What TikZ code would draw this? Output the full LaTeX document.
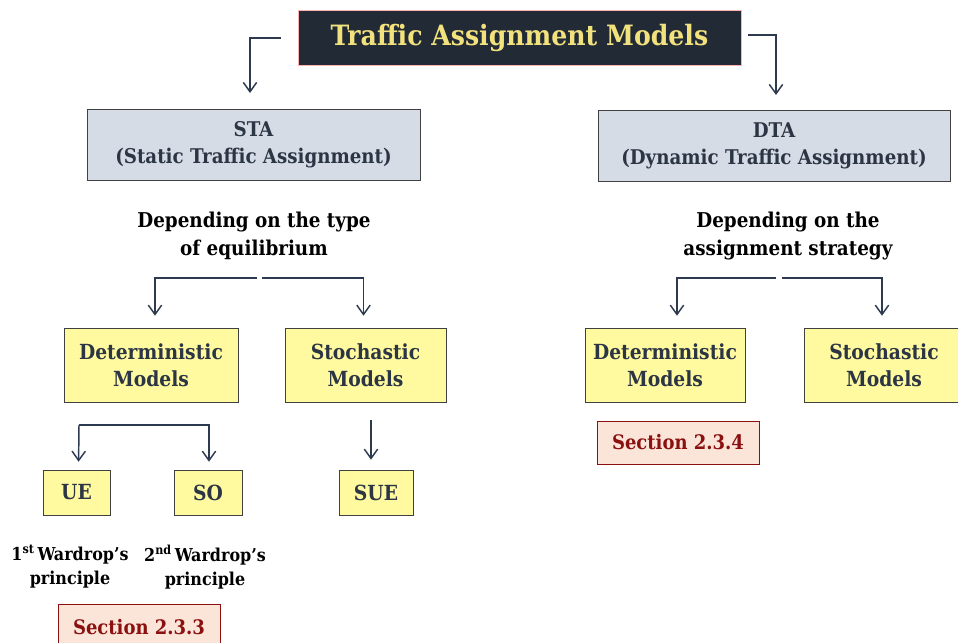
\documentclass[tikz,border=0pt]{standalone}
\usepackage{fontspec}
\setmainfont{DejaVu Serif Condensed}
\usetikzlibrary{arrows.meta,positioning}

\definecolor{navy}{HTML}{222A36}
\definecolor{titletext}{HTML}{F2E27D}
\definecolor{linecol}{HTML}{2E3A4F}
\definecolor{greyfill}{HTML}{D6DCE5}
\definecolor{boxtext}{HTML}{2B3544}
\definecolor{yellowfill}{HTML}{FFFA9F}
\definecolor{secfill}{HTML}{FBE4D8}
\definecolor{secred}{HTML}{8B1010}

\tikzstyle{boxsize} = [minimum width=#1*0.75pt]
\tikzstyle{heading} = [draw=red!30, fill=navy, text=titletext, inner sep=0pt, minimum height=55*0.75pt, font=\bfseries\fontsize{21}{25}\selectfont]
\tikzstyle{group} = [draw=black!75, fill=greyfill, text=boxtext, inner sep=0pt, align=center, minimum height=71*0.75pt, font=\bfseries\fontsize{15.2}{20}\selectfont]
\tikzstyle{model} = [draw=black!75, fill=yellowfill, text=boxtext, inner sep=0pt, align=center, minimum height=74*0.75pt, font=\bfseries\fontsize{15.6}{20}\selectfont]
\tikzstyle{leaf} = [draw=black!75, fill=yellowfill, text=boxtext, inner sep=0pt, minimum height=45*0.75pt, font=\bfseries\fontsize{15.6}{20}\selectfont]
\tikzstyle{section} = [draw=secred, fill=secfill, text=secred, inner sep=0pt, minimum height=43*0.75pt, font=\bfseries\fontsize{15}{20}\selectfont]
\tikzstyle{note} = [align=center, font=\bfseries\fontsize{15.3}{21}\selectfont]
\tikzstyle{small} = [align=center, font=\bfseries\fontsize{13.3}{18}\selectfont]
\tikzstyle{conn} = [draw=linecol, line width=1.1pt, -{Straight Barb[length=7pt,width=10pt]}]

\begin{document}
\begin{tikzpicture}[x=0.75pt,y=-0.75pt]
  \useasboundingbox (0,0) rectangle (958,643);

  \node [heading, boxsize=443] (tam) at (519.5,37.5) {Traffic Assignment Models};

  \node [group, boxsize=333] (sta) at (253.5,145) {STA\\(Static Traffic Assignment)};
  \node [group, boxsize=352] (dta) at (774,146) {DTA\\(Dynamic Traffic Assignment)};

  \node [note] (sta_dep) at (254,236) {Depending on the type\\of equilibrium};
  \node [note] (dta_dep) at (788,236) {Depending on the\\assignment strategy};

  \node [model, boxsize=174] (sdet) at (151,365) {Deterministic\\Models};
  \node [model, boxsize=161] (ssto) at (365.5,365) {Stochastic\\Models};
  \node [model, boxsize=160] (ddet) at (665,365) {Deterministic\\Models};
  \node [model, boxsize=160] (dsto) at (884,365) {Stochastic\\Models};

  \node [section, boxsize=162] (sec4) at (678,442.5) {Section 2.3.4};

  \node [leaf, boxsize=67] (ue) at (76.5,492.5) {UE};
  \node [leaf, boxsize=68] (so) at (208,492.5) {SO};
  \node [leaf, boxsize=74] (sue) at (376,492.5) {SUE};

  \node [small] (ue_txt) at (70,567) {1\textsuperscript{st}\,Wardrop’s\\principle};
  \node [small] (so_txt) at (205,567) {2\textsuperscript{nd}\,Wardrop’s\\principle};

  \node [section, boxsize=162, minimum height=46*0.75pt] (sec3) at (139,627) {Section 2.3.3};

  \coordinate (tam_l) at (281,38);
  \coordinate (tam_r) at (748,35);
  \coordinate (sta_in) at (250,93);
  \coordinate (dta_in) at (776,95);

  \coordinate (sdep_l) at (257,278);
  \coordinate (sdep_r) at (262,278);
  \coordinate (ddep_l) at (776,278);
  \coordinate (ddep_r) at (782,278);

  \coordinate (sdet_b) at (79,425);

  \draw [conn] (tam_l) -| (sta_in);
  \draw [conn] (tam_r) -| (dta_in);

  \draw [conn, shorten >=9pt] (sdep_l) -| ([xshift=3pt]sdet.north);
  \draw [conn, shorten >=9pt] (sdep_r) -| ([xshift=-1.5pt]ssto.north);
  \draw [conn, shorten >=9pt] (ddep_l) -| ([xshift=9pt]ddet.north);
  \draw [conn, shorten >=9pt] (ddep_r) -| ([xshift=-1.5pt]dsto.north);

  \draw [conn, shorten >=6pt] (sdet_b) -| ([xshift=0.75pt]so.north);
  \draw [conn, shorten >=6pt] (sdet_b) -- ([xshift=1.5pt]ue.north);
  \draw [conn, shorten >=7.5pt] ([xshift=4.125pt,yshift=-13.5pt]ssto.south) -- ([xshift=-3.75pt]sue.north);
\end{tikzpicture}
\end{document}
